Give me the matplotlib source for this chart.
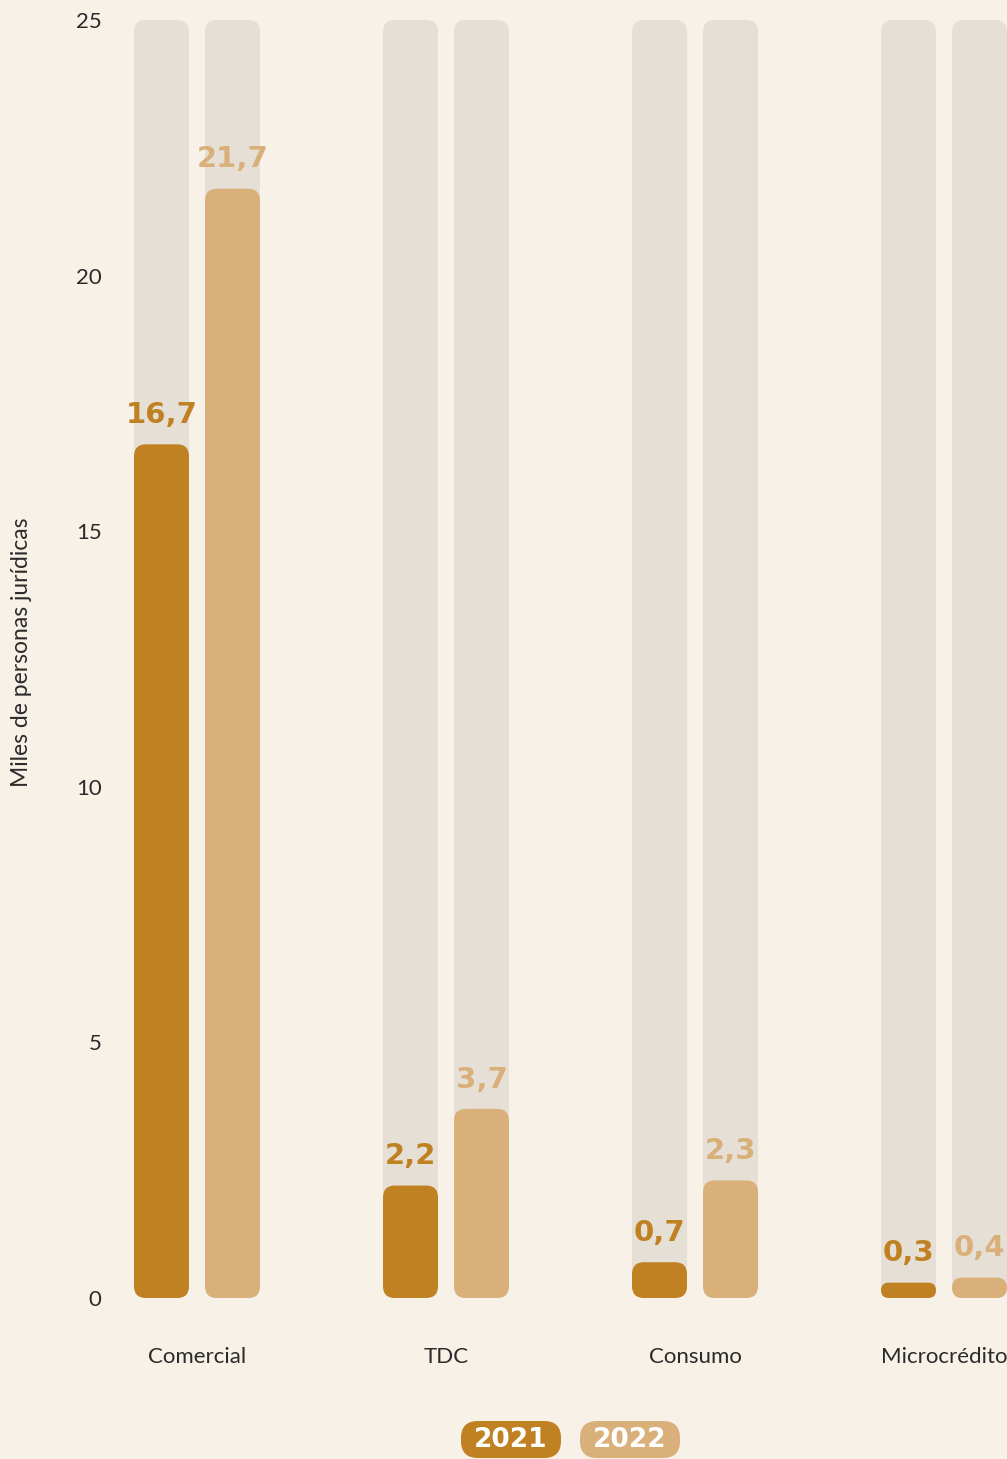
import numpy as np
import matplotlib.pyplot as plt
from matplotlib.patches import FancyBboxPatch

# data
categorias = ['Comercial', 'TDC', 'Consumo', 'Microcrédito']
v2021 = [16.7, 2.2, 0.7, 0.3]
v2022 = [21.7, 3.7, 2.3, 0.4]
etiq2021 = ['16,7', '2,2', '0,7', '0,3']
etiq2022 = ['21,7', '3,7', '2,3', '0,4']
anios = ['2021', '2022']
ymax = 25
yticks = [0, 5, 10, 15, 20, 25]

# colours
c_bg = '#F8F1E8'
c_track = '#E6DFD6'
c21 = '#C08122'
c22 = '#DAB07A'
c_txt = '#2B2B2B'

W, H = 1007, 1459
fig = plt.figure(figsize=(W / 100, H / 100), dpi=100, facecolor=c_bg)
ax = fig.add_axes([110 / W, (H - 1298) / H, 897 / W, 1278 / H])
ax.set_facecolor(c_bg)
ax.set_xlim(-0.3494, 3.253)
ax.set_ylim(0, ymax)

px_x = 897 / (3.253 + 0.3494)   # pixels per x unit
px_y = 1278 / ymax              # pixels per y unit
aspect = px_x / px_y
bw = 55 / px_x
off = 35.5 / px_x


def rbar(xc, h, color):
    r_px = min(12, h * px_y / 2)
    p = FancyBboxPatch((xc - bw / 2, 0), bw, h,
                       boxstyle='round,pad=0,rounding_size=%f' % (r_px / px_x),
                       mutation_aspect=aspect, fc=color, ec='none')
    ax.add_patch(p)


x = np.arange(len(categorias))
for i in x:
    for sgn, vals, labs, col in [(-1, v2021, etiq2021, c21), (1, v2022, etiq2022, c22)]:
        xc = i + sgn * off
        rbar(xc, ymax, c_track)
        rbar(xc, vals[i], col)
        ax.annotate(labs[i], (xc, vals[i]), xytext=(0, 11), textcoords='offset points',
                    ha='center', va='bottom', fontsize=21, fontweight='bold',
                    color=col, family='DejaVu Sans')

for s in ax.spines.values():
    s.set_visible(False)
ax.set_xticks(x)
ax.set_xticklabels(categorias, fontsize=16, color=c_txt, family='Lato')
ax.set_yticks(yticks)
ax.set_yticklabels([str(t) for t in yticks], fontsize=16, color=c_txt, family='Lato')
ax.tick_params(axis='x', length=0, pad=35)
ax.tick_params(axis='y', length=0, pad=6)
ax.set_ylabel('Miles de personas jurídicas', fontsize=16.5, color=c_txt, family='Lato')
ax.yaxis.set_label_coords(-0.087, 0.505)

# legend pills (pixel overlay)
lg = fig.add_axes([0, 0, 1, 1], facecolor='none')
lg.set_xlim(0, W)
lg.set_ylim(H, 0)
lg.axis('off')
for cx, lab, col in [(511, anios[0], c21), (630, anios[1], c22)]:
    lg.add_patch(FancyBboxPatch((cx - 50, 1421), 100, 37,
                                boxstyle='round,pad=0,rounding_size=17',
                                fc=col, ec='none'))
    lg.text(cx, 1440, lab, ha='center', va='center', color='white',
            fontsize=19, fontweight='bold', family='DejaVu Sans')

plt.savefig('out.png', dpi=100, facecolor=c_bg)
